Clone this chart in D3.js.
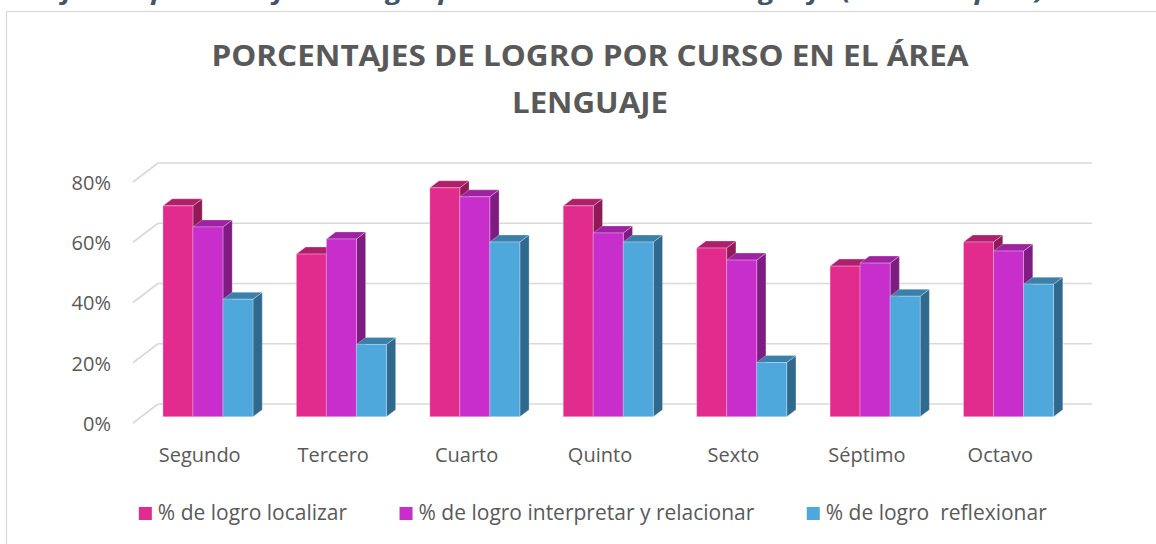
<!DOCTYPE html>
<html>
<head>
<meta charset="utf-8">
<script src="https://cdn.jsdelivr.net/npm/d3@7"></script>
<style>
  html, body { margin: 0; padding: 0; background: #ffffff; }
  svg { display: block; }
  text { font-family: "Open Sans", "Noto Sans", sans-serif; }
</style>
</head>
<body>
<svg id="chart" width="1156" height="544"></svg>
<script>
// ---- data ----
const categories = ["Segundo", "Tercero", "Cuarto", "Quinto", "Sexto", "Séptimo", "Octavo"];
const localizar   = [0.70, 0.54, 0.76, 0.70, 0.56, 0.50, 0.58];
const interpretar = [0.63, 0.59, 0.73, 0.61, 0.52, 0.51, 0.55];
const reflexionar = [0.39, 0.24, 0.58, 0.58, 0.18, 0.40, 0.44];
const seriesNames = ["% de logro localizar", "% de logro interpretar y relacionar", "% de logro  reflexionar"];
const yTicks = [0, 0.2, 0.4, 0.6, 0.8];
const titleLines = ["PORCENTAJES DE LOGRO POR CURSO EN EL ÁREA", "LENGUAJE"];
const captionText = "Gráfico 1: porcentajes de logro por curso en el área lenguaje (Prueba Aptus)";

const seriesValues = [localizar, interpretar, reflexionar];
const colors = [
  { front: "#E22C8D", top: "#B01F6C", side: "#8E1A56" },
  { front: "#C72ECB", top: "#9E22A1", side: "#7E1C82" },
  { front: "#4FA8DC", top: "#3B80AB", side: "#2F6A8E" }
];

const svg = d3.select("#chart");

// caption cut off at top (only descenders visible)
svg.append("text")
  .attr("x", 13).attr("y", -1)
  .attr("textLength", 1032).attr("lengthAdjust", "spacingAndGlyphs")
  .style("font-style", "italic").style("font-weight", "700")
  .style("font-size", "24px").attr("fill", "#44546A")
  .text(captionText);

// chart border
svg.append("rect")
  .attr("x", 6.5).attr("y", 11.5).attr("width", 1200).attr("height", 600)
  .attr("fill", "#ffffff").attr("stroke", "#D9D9D9").attr("stroke-width", 1.2);

// title
const titleG = svg.append("g").attr("fill", "#595959")
  .style("font-weight", "700").style("font-size", "29px");
titleG.append("text").attr("x", 590).attr("y", 66).attr("text-anchor", "middle")
  .attr("textLength", 757).attr("lengthAdjust", "spacingAndGlyphs").text(titleLines[0]);
titleG.append("text").attr("x", 590).attr("y", 113).attr("text-anchor", "middle")
  .attr("textLength", 156).attr("lengthAdjust", "spacingAndGlyphs").text(titleLines[1]);

// ---- 3D geometry ----
const DX = 25, DY = 19;      // back wall -> front plane offset
const fF = 0.67, fB = 0.30;  // bar front / back depth fractions

const x = d3.scaleBand().domain(categories).range([158, 1092])
  .paddingInner(0.325).paddingOuter(0.1625);
const xs = d3.scaleBand().domain([0, 1, 2]).range([0, x.bandwidth()]);
const y = d3.scaleLinear().domain([0, 0.8]).range([404, 163]);

// gridlines on back wall + side wall diagonals
const grid = svg.append("g").attr("stroke", "#D9D9D9").attr("stroke-width", 1.6).attr("fill", "none");
grid.selectAll("line.h").data(yTicks).join("line")
  .attr("x1", 158).attr("x2", 1092)
  .attr("y1", d => y(d)).attr("y2", d => y(d));
grid.selectAll("line.d").data(yTicks).join("line")
  .attr("x1", 158 - DX).attr("x2", 158)
  .attr("y1", d => y(d) + DY).attr("y2", d => y(d));

// y axis labels on front plane
const yAxis = d3.axisLeft(y).tickValues(yTicks).tickFormat(d3.format(".0%"))
  .tickSize(0).tickPadding(22);
const yG = svg.append("g").attr("transform", `translate(${158 - DX},${DY + 1})`).call(yAxis);
yG.select(".domain").remove();
yG.selectAll("text").attr("fill", "#595959").style("font-size", "20px")
  .style("font-family", '"Open Sans", sans-serif');

// x axis labels on front plane
const xAxis = d3.axisBottom(x).tickSize(0).tickPadding(25);
const xG = svg.append("g").attr("transform", `translate(${-DX},${y(0) + DY})`).call(xAxis);
xG.select(".domain").remove();
xG.selectAll("text").attr("fill", "#595959").style("font-size", "20px")
  .style("font-family", '"Open Sans", sans-serif');

// bars
const bdx = DX * (fF - fB), bdy = DY * (fF - fB);
const barsG = svg.append("g");
const barData = [];
categories.forEach((c, ci) => {
  seriesValues.forEach((vals, si) => {
    barData.push({ c, si, v: vals[ci] });
  });
});
barData.forEach(d => {
  const x0 = x(d.c) + xs(d.si) - DX * fF;
  const w = xs.bandwidth();
  const top = y(d.v) + DY * fF;
  const bot = y(0) + DY * fF;
  const col = colors[d.si];
  const g = barsG.append("g").attr("stroke", "rgba(255,255,255,0.35)").attr("stroke-width", 0.8)
    .attr("stroke-linejoin", "round");
  g.append("path").attr("fill", col.side)
    .attr("d", `M${x0 + w},${top} L${x0 + w + bdx},${top - bdy} L${x0 + w + bdx},${bot - bdy} L${x0 + w},${bot} Z`);
  g.append("path").attr("fill", col.top)
    .attr("d", `M${x0},${top} L${x0 + bdx},${top - bdy} L${x0 + w + bdx},${top - bdy} L${x0 + w},${top} Z`);
  g.append("rect").attr("fill", col.front)
    .attr("x", x0).attr("y", top).attr("width", w).attr("height", bot - top);
});

// legend
const legend = svg.append("g");
const items = legend.selectAll("g").data(seriesNames).join("g");
items.append("rect").attr("width", 13).attr("height", 13).attr("y", -12.5)
  .attr("fill", (d, i) => colors[i].front);
items.append("text").attr("x", 19).attr("y", 0)
  .attr("fill", "#595959").style("font-size", "21px").style("white-space", "pre")
  .text(d => d);
const widths = [];
items.each(function () { widths.push(this.getBBox().width); });
const gap = 52;
const total = d3.sum(widths) + gap * (widths.length - 1);
let cx = 593 - total / 2;
items.attr("transform", (d, i) => {
  const t = `translate(${cx},${519.5})`;
  cx += widths[i] + gap;
  return t;
});
</script>
</body>
</html>
